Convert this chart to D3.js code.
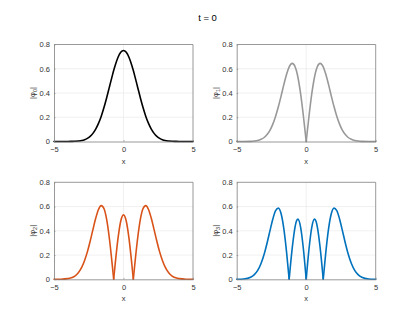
<!DOCTYPE html>
<html>
<head>
<meta charset="utf-8">
<script src="https://cdn.jsdelivr.net/npm/d3@7"></script>
<style>
  body { margin: 0; background: #fff; }
  svg { display: block; font-family: "Liberation Sans", Arial, sans-serif; }
</style>
</head>
<body>
<svg id="chart"></svg>
<script>
// eigenstate magnitudes at t = 0

const xs = [-5, -4.5, -4, -3.75, -3.5, -3.25, -3, -2.8, -2.6, -2.4, -2.2, -2, -1.8, -1.6, -1.4, -1.225,
  -1, -0.8, -0.707, -0.6, -0.4, -0.2, 0, 0.2, 0.4, 0.6, 0.707, 0.8, 1, 1.225,
  1.4, 1.6, 1.8, 2, 2.2, 2.4, 2.6, 2.8, 3, 3.25, 3.5, 3.75, 4, 4.5, 5];

// one half (x >= 0), mirrored below since every curve is symmetric
const phi0Half = [0.751, 0.736, 0.693, 0.627, 0.585, 0.545, 0.456, 0.355,
  0.282, 0.209, 0.149, 0.102, 0.067, 0.042, 0.026, 0.015, 0.008, 0.004, 0.002, 0.001, 0.0003, 0.00003, 0];
const phi1Half = [0, 0.208, 0.392, 0.532, 0.585, 0.617, 0.644, 0.615,
  0.558, 0.473, 0.378, 0.288, 0.208, 0.143, 0.094, 0.059, 0.035, 0.018, 0.008, 0.0035, 0.0014, 0.0002, 0];
const phi2Half = [0.531, 0.479, 0.333, 0.124, 0, 0.108, 0.322, 0.502,
  0.582, 0.608, 0.576, 0.503, 0.410, 0.314, 0.226, 0.155, 0.100, 0.054, 0.027, 0.013, 0.0055, 0.0008, 0.0001];
const phi3Half = [0, 0.248, 0.429, 0.496, 0.478, 0.433, 0.263, 0,
  0.210, 0.409, 0.538, 0.587, 0.567, 0.498, 0.404, 0.306, 0.217, 0.130, 0.071, 0.036, 0.017, 0.003, 0.0004];

function mirror(half) {
  return half.slice(1).reverse().concat(half);
}

const series = [
  { name: "0", values: mirror(phi0Half), color: "#000000" },
  { name: "1", values: mirror(phi1Half), color: "#999999" },
  { name: "2", values: mirror(phi2Half), color: "#D95319" },
  { name: "3", values: mirror(phi3Half), color: "#0072BD" }
];

const xTicks = [-5, 0, 5];
const yTicks = [0, 0.2, 0.4, 0.6, 0.8];
const titleText = "t = 0";

const W = 415, H = 312;
const svg = d3.select("#chart").attr("width", W).attr("height", H);

// subplot boxes (2 x 2)
const cols = [54, 236.7];
const rows = [44.5, 182.3];
const pw = 139, ph = 97;

svg.append("text")
  .attr("x", 207.5).attr("y", 21)
  .attr("text-anchor", "middle")
  .attr("font-size", 9.5)
  .attr("fill", "#000")
  .text(titleText);

// split a series into lobes at its interior zeros, so the nodes stay sharp
function lobes(vals) {
  let segs = [], cur = [];
  vals.forEach((v, i) => {
    cur.push(i);
    if (v === 0 && i > 0 && i < vals.length - 1 && cur.length > 1) {
      segs.push(cur);
      cur = [i];
    }
  });
  segs.push(cur);
  return segs;
}

series.forEach((s, k) => {
  let left = cols[k % 2], top = rows[Math.floor(k / 2)];
  let g = svg.append("g").attr("transform", "translate(" + left + "," + top + ")");

  let x = d3.scaleLinear().domain([-5, 5]).range([0, pw]);
  let y = d3.scaleLinear().domain([0, 0.8]).range([ph, 0]);

  // grid
  g.append("g").selectAll("line").data(yTicks.slice(1, -1)).join("line")
    .attr("x1", 0).attr("x2", pw)
    .attr("y1", d => y(d)).attr("y2", d => y(d))
    .attr("stroke", "#e6e6e6").attr("stroke-width", 0.6);
  g.append("line")
    .attr("x1", x(0)).attr("x2", x(0)).attr("y1", 0).attr("y2", ph)
    .attr("stroke", "#e6e6e6").attr("stroke-width", 0.6);

  // curve
  let line = d3.line()
    .x(i => x(xs[i]))
    .y(i => y(s.values[i]))
    .curve(d3.curveMonotoneX);
  g.append("g").selectAll("path").data(lobes(s.values)).join("path")
    .attr("d", line)
    .attr("fill", "none")
    .attr("stroke", s.color)
    .attr("stroke-width", 1.6)
    .attr("stroke-linecap", "round")
    .attr("stroke-linejoin", "round");

  // axes
  let xAxis = d3.axisBottom(x).tickValues(xTicks).tickFormat(d3.format("d"))
    .tickSizeInner(-1.5).tickSizeOuter(0).tickPadding(5);
  let yAxis = d3.axisLeft(y).tickValues(yTicks).tickFormat(d => d === 0 ? "0" : d3.format(".1f")(d))
    .tickSizeInner(-1.5).tickSizeOuter(0).tickPadding(4);

  let gx = g.append("g").attr("transform", "translate(0," + ph + ")").call(xAxis);
  let gy = g.append("g").call(yAxis);
  [gx, gy].forEach(a => {
    a.select(".domain").attr("stroke", "#7f7f7f").attr("stroke-width", 0.8);
    a.selectAll(".tick line").attr("stroke", "#7f7f7f").attr("stroke-width", 0.6);
    a.selectAll("text").attr("fill", "#333").attr("font-size", 7.5)
      .attr("font-family", "\"Liberation Sans\", Arial, sans-serif");
  });

  // box top / right
  g.append("path")
    .attr("d", "M0,0H" + pw + "V" + ph)
    .attr("fill", "none")
    .attr("stroke", "#7f7f7f").attr("stroke-width", 0.8);

  // labels
  g.append("text")
    .attr("x", pw / 2).attr("y", ph + 22)
    .attr("text-anchor", "middle")
    .attr("font-size", 7.5).attr("fill", "#333")
    .text("x");

  let yl = g.append("text")
    .attr("transform", "translate(-19," + (ph / 2) + ") rotate(-90)")
    .attr("text-anchor", "middle")
    .attr("font-size", 7.5).attr("fill", "#333");
  yl.append("tspan").text("|φ");
  yl.append("tspan").attr("font-size", 5.5).attr("dy", 1.8).text(s.name);
  yl.append("tspan").attr("dy", -1.8).text("|");
});
</script>
</body>
</html>
